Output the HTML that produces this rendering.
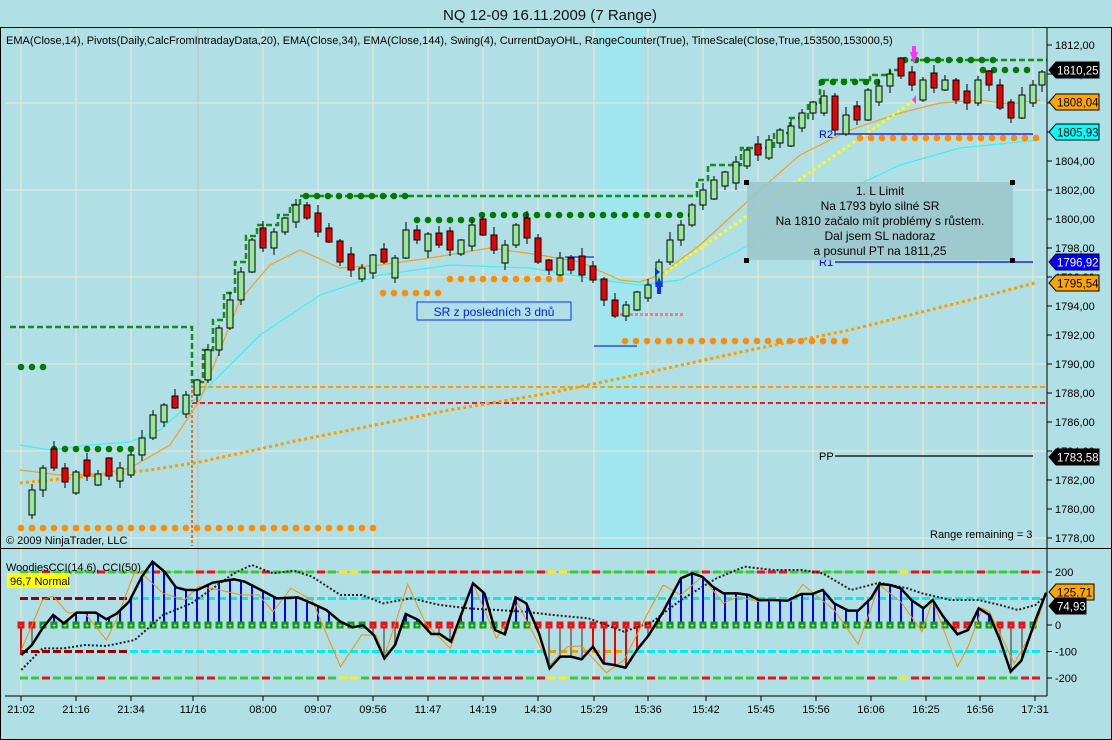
<!DOCTYPE html>
<html><head><meta charset="utf-8"><style>
html,body{margin:0;padding:0;background:#b0dfe5;}
svg{display:block;font-family:"Liberation Sans",sans-serif;}
</style></head><body>
<svg id="s" width="1112" height="740" xmlns="http://www.w3.org/2000/svg">
<rect x="0" y="0" width="1112" height="740" fill="#b0dfe5"/>
<rect x="597" y="28" width="46" height="520" fill="#a0e6ee"/>
<g id="grid"></g>
<g id="lv"></g>
<g id="cd"></g>
<g id="cc"></g>
<text x="550" y="20" font-size="15" text-anchor="middle" fill="#111">NQ 12-09  16.11.2009 (7 Range)</text>
<text x="6" y="44" font-size="11" fill="#000">EMA(Close,14),  Pivots(Daily,CalcFromIntradayData,20),  EMA(Close,34),  EMA(Close,144),  Swing(4),  CurrentDayOHL,  RangeCounter(True),  TimeScale(Close,True,153500,153000,5)</text>
<rect x="747" y="182" width="266" height="78" fill="#9cc6cc" opacity="0.9"/>
<rect x="744" y="180" width="5" height="5" fill="#000"/><rect x="1010" y="180" width="5" height="5" fill="#000"/>
<rect x="744" y="258" width="5" height="5" fill="#000"/><rect x="1010" y="258" width="5" height="5" fill="#000"/>
<g font-size="12" text-anchor="middle" fill="#000">
<text x="880" y="195">1. L Limit</text>
<text x="880" y="210">Na 1793 bylo silné SR</text>
<text x="880" y="225">Na 1810 začalo mít problémy s růstem.</text>
<text x="880" y="240">Dal jsem SL nadoraz</text>
<text x="880" y="255">a posunul PT na 1811,25</text>
</g>
<rect x="417" y="302" width="154" height="18" fill="#b0dfe5" stroke="#0033ff" stroke-width="1"/>
<text x="494" y="316" font-size="12" text-anchor="middle" fill="#0022ee">SR z posledních 3 dnů</text>
<text x="6" y="544" font-size="11" fill="#000">© 2009 NinjaTrader, LLC</text>
<text x="930" y="538" font-size="11" fill="#000">Range remaining = 3</text>
<text x="6" y="571" font-size="11" fill="#000">WoodiesCCI(14,6), CCI(50)</text>
<rect x="7" y="573" width="63" height="15" fill="#ffff00"/>
<text x="10" y="585" font-size="11" fill="#000">96,7 Normal</text>
<g id="ax"></g>
<rect x="0.5" y="27.5" width="1111" height="712" fill="none" stroke="#000"/>
<line x1="0" y1="548.5" x2="1112" y2="548.5" stroke="#000"/>
</svg>
<script>
const NS="http://www.w3.org/2000/svg";
function el(g,t,a,txt){const e=document.createElementNS(NS,t);for(const k in a)e.setAttribute(k,a[k]);if(txt!==undefined)e.textContent=txt;document.getElementById(g).appendChild(e);return e;}
function poly(g,pts,st){el(g,'polyline',Object.assign({points:pts.map(p=>p.join(',')).join(' '),fill:'none'},st));}
function interp(kp,x){if(x<=kp[0][0])return kp[0][1];for(let i=1;i<kp.length;i++){if(x<=kp[i][0]){const a=kp[i-1],b=kp[i];return a[1]+(b[1]-a[1])*(x-a[0])/(b[0]-a[0]);}}return kp[kp.length-1][1];}
const P=p=>45+(1812-p)*14.5;
const gx=[21,76,131,263,318,373,428,483,538,594,648,703,758,813,868,923,978,1033];
gx.forEach(x=>el('grid','line',{x1:x,y1:28,x2:x,y2:696,stroke:'#ece8d4','stroke-width':1}));
el('grid','line',{x1:198,y1:28,x2:198,y2:696,stroke:'#c8b8c0','stroke-width':1});
[1808,1802,1796,1790,1784,1778].forEach(p=>el('grid','line',{x1:5,y1:P(p),x2:1047,y2:P(p),stroke:'#ece8d4'}));
const lv='lv';
el(lv,'line',{x1:192,y1:387,x2:1047,y2:387,stroke:'#f5a000','stroke-width':2,'stroke-dasharray':'5,3'});
el(lv,'line',{x1:192,y1:403,x2:1047,y2:403,stroke:'#e02020','stroke-width':2,'stroke-dasharray':'5,3'});
el(lv,'line',{x1:192,y1:380,x2:192,y2:546,stroke:'#f07020','stroke-width':2,'stroke-dasharray':'3,2'});
poly(lv,[[20,483],[150,470],[200,462],[300,440],[450,410],[550,393],[650,372],[750,350],[850,330],[950,305],[1035,283]],{stroke:'#f5a000','stroke-width':3,'stroke-dasharray':'3,3'});
poly(lv,[[20,445],[50,450],[90,445],[130,442],[160,430],[200,395],[260,335],[320,295],[380,275],[450,265],[530,268],[600,280],[640,285],[680,280],[740,250],[830,198],[900,165],[960,148],[1040,140]],{stroke:'#40f0f0','stroke-width':1.2});
poly(lv,[[20,470],[60,475],[100,474],[130,468],[170,445],[200,400],[240,300],[270,265],[300,250],[340,268],[380,265],[430,258],[490,248],[540,255],[580,262],[620,280],[640,282],[660,275],[700,245],[760,190],[800,155],[850,130],[900,113],[940,103],[980,100],[1010,104],[1040,100]],{stroke:'#f5a020','stroke-width':1.2});
el(lv,'line',{x1:660,y1:276,x2:915,y2:100,stroke:'#ffff00','stroke-width':3,'stroke-dasharray':'3,3'});
poly(lv,[[10,327],[192,327],[192,382],[203,382],[203,350],[213,350],[213,320],[224,320],[224,293],[235,293],[235,262],[246,262],[246,236],[257,236],[257,225],[278,225],[278,215],[290,215],[290,205],[300,205],[300,196],[697,196],[697,180],[708,180],[708,165],[741,165],[741,148],[774,148],[774,133],[790,133],[790,118],[808,118],[808,104],[820,104],[820,80],[870,80],[870,75],[890,75],[890,70],[900,70],[900,60],[1047,60]],{stroke:'#1a8a1a','stroke-width':2.5,'stroke-dasharray':'6,3'});
function dots(x1,x2,y,c){for(let x=x1;x<=x2;x+=11)el(lv,'circle',{cx:x,cy:y,r:3.3,fill:c});}
const G='#007a00',O='#ff8c00';
dots(21,43,367,G);dots(54,131,449,G);dots(306,406,196,G);dots(417,472,220,G);dots(482,692,215,G);
dots(822,882,82,G);dots(905,993,60,G);dots(983,1037,70,G);
dots(21,376,528,O);dots(383,438,293,O);dots(450,560,279,O);dots(625,850,341,O);dots(860,1040,138,O);
for(let x=620;x<=682;x+=5)el(lv,'rect',{x:x,y:313,width:3,height:3,fill:'#f08070'});
el(lv,'line',{x1:835,y1:134,x2:1033,y2:134,stroke:'#0000ee','stroke-width':1.3});
el(lv,'line',{x1:835,y1:262,x2:1033,y2:262,stroke:'#0000ee','stroke-width':1.3});
el(lv,'line',{x1:835,y1:456,x2:1033,y2:456,stroke:'#000','stroke-width':1.3});
el(lv,'text',{x:819,y:138,'font-size':11,fill:'#0000ee'},'R2');
el(lv,'text',{x:819,y:266,'font-size':11,fill:'#0000ee'},'R1');
el(lv,'text',{x:819,y:460,'font-size':11,fill:'#000'},'PP');
el(lv,'line',{x1:565,y1:257,x2:594,y2:257,stroke:'#0000aa'});
el(lv,'line',{x1:594,y1:346,x2:637,y2:346,stroke:'#0000cc'});
const ck=[[21,515],[32,490],[43,468],[54,468],[65,482],[76,472],[87,476],[98,474],[109,476],[120,468],[131,455],[142,438],[153,415],[164,405],[175,408],[186,395],[197,380],[208,350],[219,328],[230,300],[241,272],[252,240],[263,248],[274,232],[285,218],[296,205],[307,218],[318,232],[329,242],[340,262],[351,270],[362,268],[373,255],[384,262],[395,258],[406,230],[417,240],[428,234],[439,245],[450,250],[461,240],[472,225],[483,235],[494,250],[505,245],[516,225],[527,238],[538,262],[549,270],[560,258],[571,270],[582,275],[593,280],[604,300],[615,316],[626,305],[637,292],[648,285],[659,262],[670,240],[681,225],[692,205],[703,190],[714,180],[725,172],[736,162],[747,150],[758,155],[769,140],[780,130],[791,126],[802,113],[813,102],[824,96],[835,130],[846,115],[857,120],[868,90],[879,86],[890,74],[901,76],[912,85],[923,80],[934,88],[945,80],[956,100],[967,103],[978,80],[989,85],[1000,108],[1011,118],[1022,95],[1033,85],[1042,72]];
for(let i=1;i<ck.length;i++){const x=ck[i][0],o0=ck[i-1][1],c=ck[i][1];const up=c<o0;
 let d=Math.max(Math.abs(o0-c),10+((i*7)%12));
 const o=up?c+d:c-d;
 const t=Math.min(o,c),b=Math.max(o,c);
 const wt=t-((i*5)%8)-1,wb=b+((i*3)%7)+1;
 el('cd','line',{x1:x,y1:wt,x2:x,y2:wb,stroke:'#000'});
 el('cd','rect',{x:x-3,y:t,width:6,height:b-t,fill:up?'#98e898':'#ee0000',stroke:'#000','stroke-width':1});}
el('cd','polygon',{points:'910,52 918,52 914,64',fill:'#ff33ff'});el('cd','rect',{x:912,y:46,width:4,height:7,fill:'#ff33ff'});
el('cd','polygon',{points:'655,287 663,287 659,277',fill:'#0033ff'});el('cd','rect',{x:657,y:286,width:4,height:8,fill:'#0033ff'});
el('cd','polygon',{points:'916,95 912,100 916,104',fill:'#ff33ff'});
el('cd','polygon',{points:'655,268 660,272 655,276',fill:'#0033ff'});
const C=v=>625-v*0.265;
const zc=(arr)=>arr.map(p=>[p[0]/1.41,540+p[1]/3]);
const blk=zc([[30,345],[45,315],[60,265],[75,225],[90,250],[108,218],[135,218],[150,238],[165,220],[182,185],[200,110],[215,65],[232,95],[248,142],[262,150],[278,150],[300,128],[330,118],[345,125],[368,150],[390,175],[420,172],[440,190],[460,210],[480,245],[497,262],[512,256],[527,285],[542,355],[557,315],[572,222],[590,240],[608,282],[620,282],[636,305],[650,225],[667,130],[683,160],[698,270],[712,283],[727,172],[742,190],[760,280],[775,385],[790,350],[805,350],[820,358],[836,320],[851,370],[866,375],[882,383],[898,330],[915,285],[935,215],[960,115],[976,100],[990,110],[1005,140],[1020,160],[1040,160],[1056,165],[1070,180],[1090,180],[1110,182],[1130,162],[1145,162],[1160,150],[1176,190],[1196,212],[1210,212],[1228,175],[1240,132],[1255,135],[1270,145],[1285,180],[1302,205],[1315,180],[1330,230],[1350,283],[1365,270],[1380,205],[1395,225],[1410,300],[1425,395],[1440,362],[1460,240],[1475,158]]);
const org=zc([[30,330],[60,180],[75,168],[95,218],[120,220],[150,300],[165,235],[190,95],[200,100],[230,160],[260,180],[280,140],[310,150],[340,165],[365,165],[385,215],[410,145],[440,180],[480,380],[510,285],[530,285],[542,350],[575,133],[600,250],[635,325],[667,130],[700,295],[730,190],[775,375],[800,320],[820,318],[855,398],[880,360],[912,225],[935,135],[960,165],[990,110],[1020,190],[1040,170],[1070,185],[1090,182],[1115,185],[1132,133],[1150,165],[1176,210],[1210,312],[1240,135],[1270,185],[1300,275],[1315,180],[1350,380],[1365,320],[1385,205],[1395,215],[1430,370],[1460,258],[1475,162]]);
const c50=zc([[30,390],[60,325],[90,325],[120,315],[150,318],[190,300],[230,225],[270,190],[300,145],[330,100],[355,75],[385,100],[415,92],[440,110],[480,165],[510,165],[540,190],[580,175],[620,195],[660,205],[700,210],[740,215],[780,225],[830,235],[880,275],[920,245],[960,180],[1010,115],[1050,80],[1090,90],[1130,90],[1160,100],[1200,150],[1240,128],[1280,145],[1300,160],[1340,180],[1380,180],[1410,195],[1435,210],[1460,195],[1475,165]]);
const y0=625;
function cdash(y,pal){let i=0;for(let x=20;x<1043;x+=11,i++){el('cc','rect',{x:x,y:y-1.5,width:8,height:3,fill:pal(i,x)});}}
const pal=(i,x)=>{ if((x>195&&x<215)||(x>370&&x<520)||(x>760&&x<790)||(x>900&&x<930)||(x>1000&&x<1040&&i%2))return '#ee1111'; if((x>335&&x<360)||(x>545&&x<560)||(x>895&&x<902)||(x>1040))return '#ffee00'; return (i%5==2)?'#ee1111':'#33cc33';};
el('cc','line',{x1:20,y1:C(200),x2:1043,y2:C(200),stroke:'#999','stroke-width':1});
cdash(C(200),pal);cdash(C(-200),pal);
cdash(C(100),(i,x)=>x<120?'#990000':'#00eeee');
cdash(C(-100),(i,x)=>x<120?'#990000':(x>540&&x<620?'#e8a000':'#00eeee'));
for(let x=21;x<=1043;x+=11){const v=interp(blk,x);const c=v<y0?(x>595&&x<645?'#888':'#0000ff'):(x>590&&x<640?'#ee0000':(x<30?'#ee0000':'#808080'));el('cc','line',{x1:x,y1:y0,x2:x,y2:v,stroke:c,'stroke-width':2});}
for(let x=21;x<=1043;x+=11){const v=interp(blk,x);const g=v<y0+3;el('cc','rect',{x:x-3.5,y:y0-3.5,width:7,height:7,fill:g?'#119911':'#ee1111'});el('cc','text',{x:x,y:y0+3,'font-size':7,'text-anchor':'middle',fill:'#fff'},g?'+':'-');}
poly('cc',c50,{stroke:'#222','stroke-width':2,'stroke-dasharray':'2,2'});
poly('cc',org,{stroke:'#f59000','stroke-width':1});
poly('cc',blk,{stroke:'#000','stroke-width':2.5});
const ax='ax';
el(ax,'line',{x1:1047,y1:28,x2:1047,y2:696,stroke:'#000'});
el(ax,'line',{x1:5,y1:696,x2:1047,y2:696,stroke:'#000'});
for(let p=1812;p>=1778;p-=2){const y=P(p);el(ax,'line',{x1:1047,y1:y,x2:1052,y2:y,stroke:'#000'});el(ax,'text',{x:1055,y:y+4,'font-size':11,fill:'#000'},p.toFixed(2).replace('.',','));}
[[200,'200'],[0,'0'],[-100,'-100'],[-200,'-200']].forEach(a=>{const y=C(a[0]);el(ax,'line',{x1:1047,y1:y,x2:1052,y2:y,stroke:'#000'});el(ax,'text',{x:1055,y:y+4,'font-size':11,fill:'#000'},a[1]);});
function tag(y,txt,bg,fg,w){el(ax,'polygon',{points:`1049,${y} 1056,${y-8} ${1056+w},${y-8} ${1056+w},${y+8} 1056,${y+8}`,fill:bg,stroke:'#000','stroke-width':1});el(ax,'text',{x:1057,y:y+4.5,'font-size':11.5,fill:fg},txt);}
tag(70,'1810,25','#000','#fff',43);tag(102,'1808,04','#ffa500','#000',43);tag(132,'1805,93','#00ffff','#000',43);
tag(262,'1796,92','#0000ff','#fff',43);tag(283,'1795,54','#ffa500','#000',43);tag(457,'1783,58','#000','#fff',43);
tag(592,'125,71','#ffa500','#000',38);tag(606,'74,93','#000','#fff',30);
const tl=[[21,'21:02'],[76,'21:16'],[131,'21:34'],[193,'11/16'],[263,'08:00'],[318,'09:07'],[373,'09:56'],[428,'11:47'],[483,'14:19'],[538,'14:30'],[594,'15:29'],[648,'15:36'],[706,'15:42'],[761,'15:45'],[816,'15:56'],[871,'16:06'],[926,'16:25'],[980,'16:56'],[1035,'17:31']];
tl.forEach(t=>{el(ax,'line',{x1:t[0],y1:696,x2:t[0],y2:701,stroke:'#000'});el(ax,'text',{x:t[0],y:713,'font-size':11,'text-anchor':'middle',fill:'#000'},t[1]);});
</script>
</body></html>
